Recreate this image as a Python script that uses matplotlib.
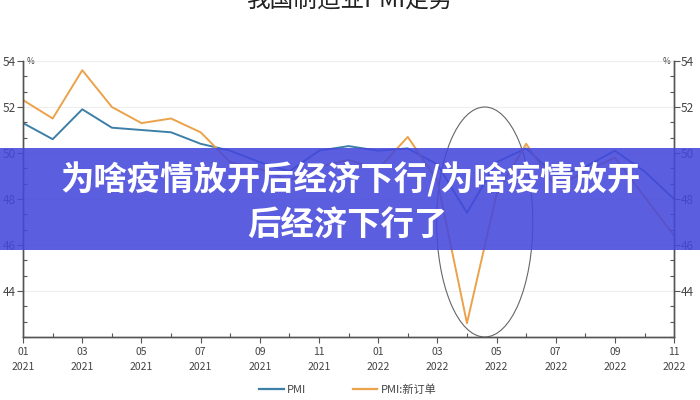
import matplotlib
matplotlib.use("Agg")
import matplotlib.pyplot as plt
from matplotlib.patches import Ellipse, Rectangle
from matplotlib.ticker import MultipleLocator, AutoMinorLocator
from matplotlib.lines import Line2D

plt.rcParams['font.family'] = ['Noto Sans CJK SC', 'DejaVu Sans']

## data ##
months = ["01", "02", "03", "04", "05", "06", "07", "08", "09", "10", "11", "12"] * 2
months = months[:23]
years = ["2021"] * 12 + ["2022"] * 11
pmi = [51.3, 50.6, 51.9, 51.1, 51.0, 50.9, 50.4, 50.1, 49.6, 49.2, 50.1, 50.3,
       50.1, 50.2, 49.5, 47.4, 49.6, 50.2, 49.0, 49.4, 50.1, 49.2, 48.0]
new_orders = [52.3, 51.5, 53.6, 52.0, 51.3, 51.5, 50.9, 49.6, 49.3, 48.8, 49.4, 49.7,
              49.3, 50.7, 48.8, 42.6, 48.2, 50.4, 48.5, 49.2, 49.8, 48.1, 46.4]
series_names = ["PMI", "PMI:新订单"]
title = "我国制造业PMI走势"
banner_lines = ["为啥疫情放开后经济下行/为啥疫情放开", "后经济下行了"]

blue = "#3d7fa6"
orange = "#eba24a"
axis_col = "#555555"
label_col = "#444444"

fig = plt.figure(figsize=(7, 4), dpi=100)
ax = fig.add_axes([0.033, 0.1575, 0.930, 0.69])

x = list(range(len(pmi)))
ax.plot(x, pmi, color=blue, lw=1.4)
ax.plot(x, new_orders, color=orange, lw=1.4)

ax.set_xlim(0, len(pmi) - 1)
ax.set_ylim(42, 54)

# circle round the april 2022 dip
ax.add_patch(Ellipse((15.6, 47.0), 3.25, 10.0, fill=False, edgecolor="#666666",
                     lw=0.8, clip_on=False))

# y axis, both sides
ax.yaxis.set_major_locator(MultipleLocator(2))
ax.yaxis.set_minor_locator(AutoMinorLocator(3))
ax.set_yticks([44, 46, 48, 50, 52, 54])
ax.grid(axis='y', color="#eeeeee", lw=0.8)
ax.set_axisbelow(True)

ax2 = ax.twinx()
ax2.set_ylim(ax.get_ylim())
ax2.set_yticks([44, 46, 48, 50, 52, 54])
ax2.yaxis.set_minor_locator(AutoMinorLocator(3))

for a in (ax, ax2):
    a.spines['top'].set_visible(False)
    for s in ('left', 'right', 'bottom'):
        a.spines[s].set_color(axis_col)
        a.spines[s].set_linewidth(1.0)
    a.tick_params(axis='y', which='major', direction='out', length=4, width=0.8,
                  colors=axis_col, labelcolor=label_col, labelsize=8.5, pad=1)
    a.tick_params(axis='y', which='minor', direction='in', length=3, width=0.8,
                  colors=axis_col)

# x axis
ax.set_xticks(x[::2])
ax.set_xticklabels([m + "\n" + y for m, y in zip(months[::2], years[::2])],
                   fontsize=7.5, color=label_col, linespacing=1.7)
ax.set_xticks(x[1::2], minor=True)
ax.tick_params(axis='x', which='major', direction='out', length=4, width=0.8,
               colors=axis_col, labelcolor=label_col, pad=3)
ax.tick_params(axis='x', which='minor', direction='in', length=3, width=0.8,
               colors=axis_col)

ax.text(0.006, 1.0, "%", transform=ax.transAxes, fontsize=6, color=label_col,
        ha='left', va='center')
ax.text(0.994, 1.0, "%", transform=ax.transAxes, fontsize=6, color=label_col,
        ha='right', va='center')

# title (cut at the top edge, as in the source)
fig.text(0.5, 1.0, title, ha='center', va='center', fontsize=17, color="#222222")

# legend
handles = [Line2D([], [], color=blue, lw=1.6), Line2D([], [], color=orange, lw=1.6)]
fig.legend(handles, series_names, loc='center', bbox_to_anchor=(0.497, 0.026),
           ncol=2, frameon=False, fontsize=8, handlelength=2.2, handletextpad=0.3,
           columnspacing=4.2, labelcolor=label_col)

# banner on top of the chart
fig.add_artist(Rectangle((0, 0.375), 1, 0.255, transform=fig.transFigure,
                         facecolor="#4548dc", alpha=0.88, edgecolor='none', zorder=5))
fig.text(0.5, 0.55, banner_lines[0], ha='center', va='center', fontsize=24,
         fontweight='bold', color='white', zorder=6)
fig.text(0.496, 0.4375, banner_lines[1], ha='center', va='center', fontsize=24,
         fontweight='bold', color='white', zorder=6)

fig.savefig("out.png", dpi=100)
